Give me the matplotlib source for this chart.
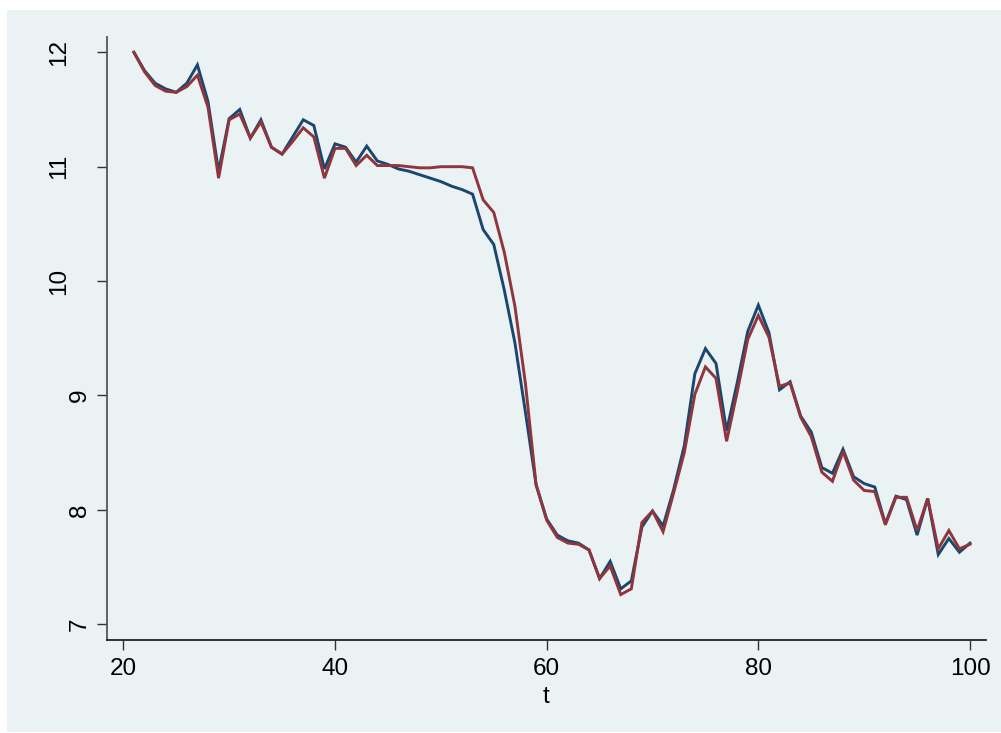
import numpy as np
import matplotlib.pyplot as plt
import matplotlib.transforms as mtransforms
from matplotlib.patches import Rectangle

# time index and the two series
t = np.arange(21, 101)
series_a = [12.00, 11.84, 11.73, 11.68, 11.65, 11.73, 11.89, 11.57, 10.96, 11.42,
            11.50, 11.25, 11.41, 11.17, 11.11, 11.26, 11.41, 11.36, 10.98, 11.20,
            11.17, 11.04, 11.18, 11.05, 11.02, 10.98, 10.96, 10.93, 10.90, 10.87,
            10.83, 10.80, 10.76, 10.45, 10.32, 9.92, 9.46, 8.85, 8.22, 7.92,
            7.78, 7.73, 7.71, 7.65, 7.40, 7.55, 7.31, 7.38, 7.85, 7.99,
            7.86, 8.18, 8.56, 9.19, 9.41, 9.28, 8.69, 9.11, 9.56, 9.79,
            9.55, 9.05, 9.12, 8.82, 8.68, 8.37, 8.32, 8.53, 8.29, 8.23,
            8.20, 7.88, 8.12, 8.09, 7.78, 8.10, 7.61, 7.75, 7.63, 7.71]
series_b = [12.00, 11.83, 11.71, 11.66, 11.65, 11.70, 11.80, 11.52, 10.90, 11.41,
            11.46, 11.25, 11.39, 11.17, 11.11, 11.22, 11.34, 11.26, 10.90, 11.16,
            11.16, 11.01, 11.10, 11.01, 11.01, 11.01, 11.00, 10.99, 10.99, 11.00,
            11.00, 11.00, 10.99, 10.71, 10.60, 10.25, 9.78, 9.10, 8.22, 7.91,
            7.76, 7.71, 7.70, 7.65, 7.40, 7.51, 7.26, 7.31, 7.89, 7.99,
            7.81, 8.15, 8.50, 9.01, 9.25, 9.15, 8.60, 9.03, 9.49, 9.70,
            9.51, 9.08, 9.11, 8.81, 8.64, 8.33, 8.25, 8.51, 8.26, 8.17,
            8.16, 7.87, 8.11, 8.11, 7.82, 8.10, 7.66, 7.82, 7.66, 7.70]
xticks = [20, 40, 60, 80, 100]
yticks = [7, 8, 9, 10, 11, 12]

bg = '#EAF2F3'
navy = '#1A476F'
maroon = '#90353B'

plt.rcParams['font.family'] = ['Liberation Sans', 'DejaVu Sans']

fig = plt.figure(figsize=(10.01, 7.33), dpi=100)
fig.patch.set_facecolor('white')
fig.patches.append(Rectangle((0.007, 0.0018), 0.993, 0.9846, transform=fig.transFigure,
                             facecolor=bg, edgecolor='none', zorder=-10))

ax = fig.add_axes([0.1066, 0.1269, 0.8781, 0.8230])
ax.set_zorder(5)
ax.patch.set_alpha(0)

ax.plot(t, series_a, color=navy, lw=2.1, solid_joinstyle='miter')
ax.plot(t, series_b, color=maroon, lw=2.1, solid_joinstyle='miter')

ax.set_xlim(18.43, 101.48)
ax.set_ylim(6.863, 12.136)

for side in ['top', 'right']:
    ax.spines[side].set_visible(False)
ax.spines['left'].set_color('#555555')
ax.spines['bottom'].set_color('#222222')
ax.spines['left'].set_linewidth(1.3)
ax.spines['bottom'].set_linewidth(1.3)

ax.set_xticks(xticks)
ax.set_xticklabels([str(v) for v in xticks])
ax.set_yticks(yticks)
ax.set_yticklabels([str(v) for v in yticks], rotation=90, va='center', ha='right')
ax.tick_params(axis='both', direction='out', length=7.2, width=1.0, color='#333333',
               labelsize=17.5, labelcolor='black')
ax.tick_params(axis='x', pad=6)
ax.tick_params(axis='y', pad=4)

# two-digit y labels sit further out from the axis
for lab in ax.get_yticklabels():
    if len(lab.get_text()) > 1:
        shift = mtransforms.ScaledTranslation(-21 / 100, 0, fig.dpi_scale_trans)
        lab.set_transform(lab.get_transform() + shift)

ax.set_xlabel('t', fontsize=17.5, labelpad=4)

fig.savefig('out.png', dpi=100)
